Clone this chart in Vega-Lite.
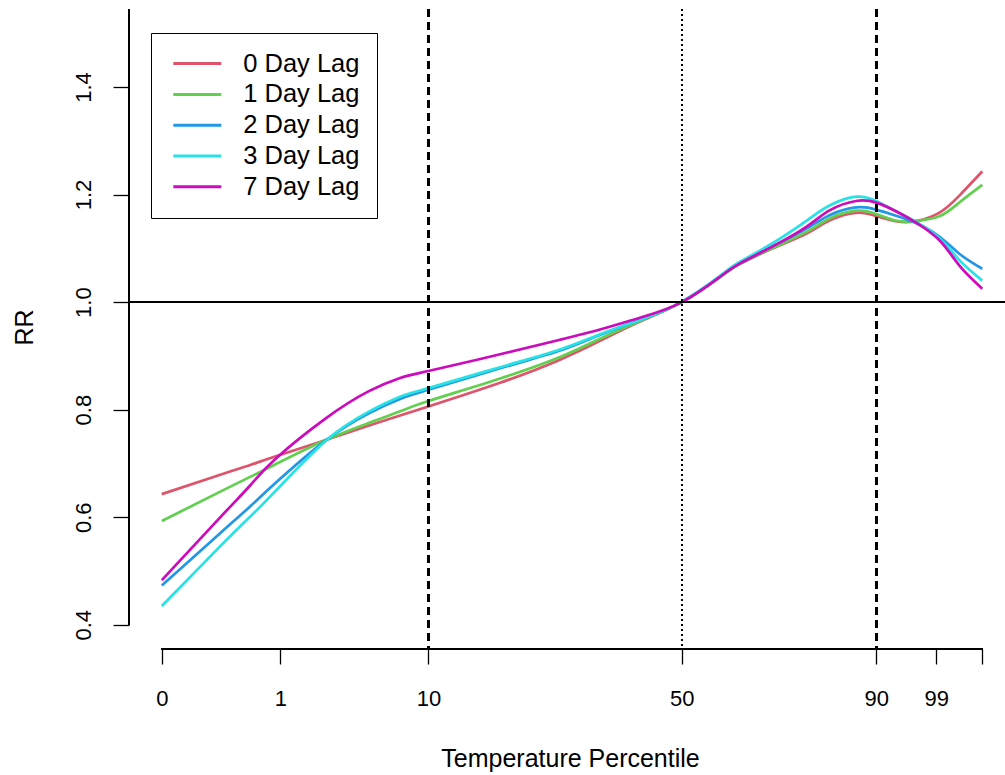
{
  "$schema": "https://vega.github.io/schema/vega-lite/v6.json",
  "width": 876,
  "height": 640,
  "autosize": {"type": "none"},
  "padding": {"left": 129, "top": 9, "right": 0, "bottom": 126},
  "background": "white",
  "config": {
    "view": {"stroke": null},
    "font": "Liberation Sans",
    "axis": {"grid": false, "domain": false, "tickColor": "black", "tickWidth": 1.3, "labelColor": "black", "titleColor": "black", "labelFont": "Liberation Sans", "titleFont": "Liberation Sans", "titleFontWeight": "normal"}
  },
  "data": {"values": [
    {"lag": "0 Day Lag", "x": 0, "rr": 0.643}, {"lag": "0 Day Lag", "x": 7.31, "rr": 0.680}, {"lag": "0 Day Lag", "x": 10.76, "rr": 0.697}, {"lag": "0 Day Lag", "x": 13.81, "rr": 0.713}, {"lag": "0 Day Lag", "x": 19.9, "rr": 0.743}, {"lag": "0 Day Lag", "x": 25.18, "rr": 0.770}, {"lag": "0 Day Lag", "x": 29.04, "rr": 0.789}, {"lag": "0 Day Lag", "x": 32.49, "rr": 0.806}, {"lag": "0 Day Lag", "x": 41.23, "rr": 0.850}, {"lag": "0 Day Lag", "x": 48.54, "rr": 0.893}, {"lag": "0 Day Lag", "x": 53.41, "rr": 0.928}, {"lag": "0 Day Lag", "x": 58.29, "rr": 0.964}, {"lag": "0 Day Lag", "x": 63.37, "rr": 1.0}, {"lag": "0 Day Lag", "x": 68.03, "rr": 1.047}, {"lag": "0 Day Lag", "x": 70.47, "rr": 1.071}, {"lag": "0 Day Lag", "x": 74.49, "rr": 1.100}, {"lag": "0 Day Lag", "x": 78.64, "rr": 1.128}, {"lag": "0 Day Lag", "x": 81.44, "rr": 1.152}, {"lag": "0 Day Lag", "x": 84.61, "rr": 1.166}, {"lag": "0 Day Lag", "x": 87.07, "rr": 1.160}, {"lag": "0 Day Lag", "x": 89.6, "rr": 1.150}, {"lag": "0 Day Lag", "x": 92.03, "rr": 1.151}, {"lag": "0 Day Lag", "x": 94.84, "rr": 1.167}, {"lag": "0 Day Lag", "x": 97.27, "rr": 1.199}, {"lag": "0 Day Lag", "x": 100, "rr": 1.243},
    {"lag": "1 Day Lag", "x": 0, "rr": 0.593}, {"lag": "1 Day Lag", "x": 7.31, "rr": 0.649}, {"lag": "1 Day Lag", "x": 10.76, "rr": 0.675}, {"lag": "1 Day Lag", "x": 13.81, "rr": 0.698}, {"lag": "1 Day Lag", "x": 19.9, "rr": 0.743}, {"lag": "1 Day Lag", "x": 25.18, "rr": 0.775}, {"lag": "1 Day Lag", "x": 29.04, "rr": 0.797}, {"lag": "1 Day Lag", "x": 32.49, "rr": 0.816}, {"lag": "1 Day Lag", "x": 41.23, "rr": 0.858}, {"lag": "1 Day Lag", "x": 48.54, "rr": 0.898}, {"lag": "1 Day Lag", "x": 53.41, "rr": 0.932}, {"lag": "1 Day Lag", "x": 58.29, "rr": 0.965}, {"lag": "1 Day Lag", "x": 63.37, "rr": 1.0}, {"lag": "1 Day Lag", "x": 68.03, "rr": 1.047}, {"lag": "1 Day Lag", "x": 70.47, "rr": 1.071}, {"lag": "1 Day Lag", "x": 74.49, "rr": 1.101}, {"lag": "1 Day Lag", "x": 78.64, "rr": 1.131}, {"lag": "1 Day Lag", "x": 81.44, "rr": 1.156}, {"lag": "1 Day Lag", "x": 84.61, "rr": 1.170}, {"lag": "1 Day Lag", "x": 87.07, "rr": 1.164}, {"lag": "1 Day Lag", "x": 89.6, "rr": 1.151}, {"lag": "1 Day Lag", "x": 92.03, "rr": 1.151}, {"lag": "1 Day Lag", "x": 94.84, "rr": 1.160}, {"lag": "1 Day Lag", "x": 97.27, "rr": 1.186}, {"lag": "1 Day Lag", "x": 100, "rr": 1.218},
    {"lag": "2 Day Lag", "x": 0, "rr": 0.473}, {"lag": "2 Day Lag", "x": 7.31, "rr": 0.573}, {"lag": "2 Day Lag", "x": 10.76, "rr": 0.620}, {"lag": "2 Day Lag", "x": 13.81, "rr": 0.663}, {"lag": "2 Day Lag", "x": 19.9, "rr": 0.742}, {"lag": "2 Day Lag", "x": 25.18, "rr": 0.793}, {"lag": "2 Day Lag", "x": 29.04, "rr": 0.820}, {"lag": "2 Day Lag", "x": 32.49, "rr": 0.837}, {"lag": "2 Day Lag", "x": 41.23, "rr": 0.877}, {"lag": "2 Day Lag", "x": 48.54, "rr": 0.910}, {"lag": "2 Day Lag", "x": 53.41, "rr": 0.939}, {"lag": "2 Day Lag", "x": 58.29, "rr": 0.967}, {"lag": "2 Day Lag", "x": 63.37, "rr": 1.0}, {"lag": "2 Day Lag", "x": 68.03, "rr": 1.047}, {"lag": "2 Day Lag", "x": 70.47, "rr": 1.072}, {"lag": "2 Day Lag", "x": 74.49, "rr": 1.104}, {"lag": "2 Day Lag", "x": 78.64, "rr": 1.137}, {"lag": "2 Day Lag", "x": 81.44, "rr": 1.162}, {"lag": "2 Day Lag", "x": 84.61, "rr": 1.176}, {"lag": "2 Day Lag", "x": 87.07, "rr": 1.172}, {"lag": "2 Day Lag", "x": 89.6, "rr": 1.160}, {"lag": "2 Day Lag", "x": 92.03, "rr": 1.146}, {"lag": "2 Day Lag", "x": 94.84, "rr": 1.121}, {"lag": "2 Day Lag", "x": 97.27, "rr": 1.089}, {"lag": "2 Day Lag", "x": 100, "rr": 1.062},
    {"lag": "3 Day Lag", "x": 0, "rr": 0.435}, {"lag": "3 Day Lag", "x": 7.31, "rr": 0.549}, {"lag": "3 Day Lag", "x": 10.76, "rr": 0.601}, {"lag": "3 Day Lag", "x": 13.81, "rr": 0.648}, {"lag": "3 Day Lag", "x": 19.9, "rr": 0.741}, {"lag": "3 Day Lag", "x": 25.18, "rr": 0.796}, {"lag": "3 Day Lag", "x": 29.04, "rr": 0.824}, {"lag": "3 Day Lag", "x": 32.49, "rr": 0.840}, {"lag": "3 Day Lag", "x": 41.23, "rr": 0.879}, {"lag": "3 Day Lag", "x": 48.54, "rr": 0.912}, {"lag": "3 Day Lag", "x": 53.41, "rr": 0.940}, {"lag": "3 Day Lag", "x": 58.29, "rr": 0.967}, {"lag": "3 Day Lag", "x": 63.37, "rr": 1.001}, {"lag": "3 Day Lag", "x": 68.03, "rr": 1.049}, {"lag": "3 Day Lag", "x": 70.47, "rr": 1.075}, {"lag": "3 Day Lag", "x": 74.49, "rr": 1.110}, {"lag": "3 Day Lag", "x": 78.64, "rr": 1.152}, {"lag": "3 Day Lag", "x": 81.44, "rr": 1.180}, {"lag": "3 Day Lag", "x": 84.61, "rr": 1.196}, {"lag": "3 Day Lag", "x": 87.07, "rr": 1.188}, {"lag": "3 Day Lag", "x": 89.6, "rr": 1.168}, {"lag": "3 Day Lag", "x": 92.03, "rr": 1.148}, {"lag": "3 Day Lag", "x": 94.84, "rr": 1.118}, {"lag": "3 Day Lag", "x": 97.27, "rr": 1.077}, {"lag": "3 Day Lag", "x": 100, "rr": 1.040},
    {"lag": "7 Day Lag", "x": 0, "rr": 0.483}, {"lag": "7 Day Lag", "x": 7.31, "rr": 0.603}, {"lag": "7 Day Lag", "x": 10.76, "rr": 0.659}, {"lag": "7 Day Lag", "x": 13.81, "rr": 0.708}, {"lag": "7 Day Lag", "x": 19.9, "rr": 0.783}, {"lag": "7 Day Lag", "x": 25.18, "rr": 0.834}, {"lag": "7 Day Lag", "x": 29.04, "rr": 0.859}, {"lag": "7 Day Lag", "x": 32.49, "rr": 0.872}, {"lag": "7 Day Lag", "x": 41.23, "rr": 0.903}, {"lag": "7 Day Lag", "x": 48.54, "rr": 0.930}, {"lag": "7 Day Lag", "x": 53.41, "rr": 0.949}, {"lag": "7 Day Lag", "x": 58.29, "rr": 0.971}, {"lag": "7 Day Lag", "x": 63.37, "rr": 1.0}, {"lag": "7 Day Lag", "x": 68.03, "rr": 1.047}, {"lag": "7 Day Lag", "x": 70.47, "rr": 1.072}, {"lag": "7 Day Lag", "x": 74.49, "rr": 1.104}, {"lag": "7 Day Lag", "x": 78.64, "rr": 1.141}, {"lag": "7 Day Lag", "x": 81.44, "rr": 1.171}, {"lag": "7 Day Lag", "x": 84.61, "rr": 1.188}, {"lag": "7 Day Lag", "x": 87.07, "rr": 1.185}, {"lag": "7 Day Lag", "x": 89.6, "rr": 1.168}, {"lag": "7 Day Lag", "x": 92.03, "rr": 1.147}, {"lag": "7 Day Lag", "x": 94.84, "rr": 1.114}, {"lag": "7 Day Lag", "x": 97.27, "rr": 1.067}, {"lag": "7 Day Lag", "x": 100, "rr": 1.025}
  ]},
  "layer": [
    {
      "mark": {"type": "line", "strokeWidth": 2.7, "interpolate": "natural"},
      "encoding": {
        "x": {"field": "x", "type": "quantitative",
          "scale": {"domain": [-4, 102.77], "nice": false, "zero": false},
          "axis": {"values": [0, 14.45, 32.49, 63.37, 87.07, 94.39, 100],
            "labelExpr": "datum.value < 1 ? '0' : datum.value < 20 ? '1' : datum.value < 40 ? '10' : datum.value < 70 ? '50' : datum.value < 90 ? '90' : datum.value < 97 ? '99' : ''",
            "tickSize": 15, "labelFontSize": 22, "labelBaseline": "alphabetic", "labelPadding": 41, "labelFlush": false, "labelOverlap": false,
            "title": "Temperature Percentile", "titleFontSize": 25, "titleX": 441, "titleY": 117, "titleAlign": "center", "titleAnchor": null, "titleBaseline": "alphabetic"}},
        "y": {"field": "rr", "type": "quantitative",
          "scale": {"domain": [0.355, 1.545], "nice": false, "zero": false},
          "axis": {"values": [0.4, 0.6, 0.8, 1.0, 1.2, 1.4], "format": ".1f",
            "tickSize": 16, "labelFontSize": 22, "labelAngle": -90, "labelAlign": "center", "labelBaseline": "alphabetic", "labelPadding": 23, "labelFlush": false, "labelOverlap": false,
            "title": "RR", "titleFontSize": 25, "titleAngle": -90, "titleX": -97, "titleY": 318, "titleAlign": "center", "titleAnchor": null, "titleBaseline": "alphabetic"}},
        "color": {"field": "lag", "type": "nominal",
          "scale": {"domain": ["0 Day Lag", "1 Day Lag", "2 Day Lag", "3 Day Lag", "7 Day Lag"], "range": ["#DF536B", "#61D04F", "#2297E6", "#28E2E5", "#CD0BBC"]},
          "legend": {"title": null, "orient": "none", "legendX": 22, "legendY": 24,
            "symbolType": "stroke", "symbolSize": 2304, "symbolStrokeWidth": 3,
            "labelFontSize": 25.5, "labelFont": "Liberation Sans", "labelColor": "black",
            "clipHeight": 28, "rowPadding": 2.8, "padding": 16.6, "symbolOffset": 4.2, "labelOffset": 20.4,
            "strokeColor": "black", "fillColor": "white"}}
      }
    },
    {"mark": {"type": "rule", "color": "black", "strokeWidth": 2}, "encoding": {"y": {"datum": 1}}},
    {"mark": {"type": "rule", "color": "black", "strokeWidth": 1.8, "strokeDash": [8, 5]}, "encoding": {"x": {"datum": 32.49}}},
    {"mark": {"type": "rule", "color": "black", "strokeWidth": 1.8, "strokeDash": [8, 5]}, "encoding": {"x": {"datum": 87.07}}},
    {"mark": {"type": "rule", "color": "black", "strokeWidth": 1.4, "strokeDash": [2, 3]}, "encoding": {"x": {"datum": 63.37}}},
    {"mark": {"type": "rule", "color": "black", "strokeWidth": 1.3}, "encoding": {"x": {"datum": 0}, "x2": {"datum": 100}, "y": {"datum": 0.355}}},
    {"mark": {"type": "rule", "color": "black", "strokeWidth": 1.3}, "encoding": {"x": {"datum": -4}, "y": {"datum": 0.4}, "y2": {"datum": 1.545}}}
  ]
}
